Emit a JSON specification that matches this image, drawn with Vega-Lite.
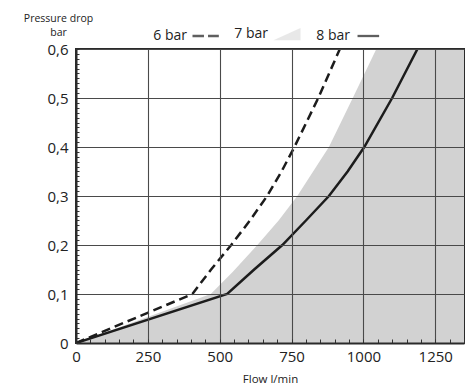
{
  "$schema": "https://vega.github.io/schema/vega-lite/v6.json",
  "width": 388,
  "height": 294,
  "autosize": {"type": "none"},
  "padding": {"left": 76, "top": 49, "right": 8, "bottom": 42},
  "background": "white",
  "config": {
    "font": "Open Sans",
    "view": {"stroke": "#2a2a2a", "strokeWidth": 2},
    "axis": {"labelFont": "Open Sans", "titleFont": "Open Sans", "labelColor": "#222", "titleColor": "#222"}
  },
  "data": {
    "values": [
      {"series": "6 bar", "flow": 0, "dp": 0},
      {"series": "6 bar", "flow": 405, "dp": 0.1},
      {"series": "6 bar", "flow": 470, "dp": 0.15},
      {"series": "6 bar", "flow": 540, "dp": 0.2},
      {"series": "6 bar", "flow": 605, "dp": 0.25},
      {"series": "6 bar", "flow": 665, "dp": 0.3},
      {"series": "6 bar", "flow": 715, "dp": 0.35},
      {"series": "6 bar", "flow": 760, "dp": 0.4},
      {"series": "6 bar", "flow": 843, "dp": 0.5},
      {"series": "6 bar", "flow": 918, "dp": 0.6},
      {"series": "7 bar", "flow": 0, "dp": 0},
      {"series": "7 bar", "flow": 469, "dp": 0.1},
      {"series": "7 bar", "flow": 545, "dp": 0.145},
      {"series": "7 bar", "flow": 631, "dp": 0.2},
      {"series": "7 bar", "flow": 705, "dp": 0.25},
      {"series": "7 bar", "flow": 770, "dp": 0.3},
      {"series": "7 bar", "flow": 880, "dp": 0.4},
      {"series": "7 bar", "flow": 963, "dp": 0.5},
      {"series": "7 bar", "flow": 1045, "dp": 0.6},
      {"series": "7 bar", "flow": 1350, "dp": 0.6},
      {"series": "8 bar", "flow": 0, "dp": 0},
      {"series": "8 bar", "flow": 526, "dp": 0.1},
      {"series": "8 bar", "flow": 620, "dp": 0.15},
      {"series": "8 bar", "flow": 718, "dp": 0.2},
      {"series": "8 bar", "flow": 800, "dp": 0.25},
      {"series": "8 bar", "flow": 880, "dp": 0.3},
      {"series": "8 bar", "flow": 945, "dp": 0.35},
      {"series": "8 bar", "flow": 1003, "dp": 0.4},
      {"series": "8 bar", "flow": 1100, "dp": 0.5},
      {"series": "8 bar", "flow": 1188, "dp": 0.6}
    ]
  },
  "encoding": {
    "x": {
      "field": "flow", "type": "quantitative",
      "scale": {"domain": [0, 1350], "nice": false, "zero": true},
      "axis": {
        "title": "Flow l/min",
        "titleFontSize": 11.5, "titleFontWeight": "normal",
        "titleBaseline": "alphabetic", "titleY": 39,
        "values": [0,50,100,150,200,250,300,350,400,450,500,550,600,650,700,750,800,850,900,950,1000,1050,1100,1150,1200,1250,1300,1350],
        "labelExpr": "datum.value % 250 == 0 ? format(datum.value, 'd') : ''",
        "labelFontSize": 15, "labelFlush": false, "labelOverlap": false, "labelPadding": 10,
        "tickSize": -4, "tickColor": "#333", "tickWidth": 1,
        "grid": true, "gridColor": "#4a4a4a", "gridWidth": 1.1,
        "gridOpacity": {"condition": {"test": "datum.value % 250 == 0", "value": 1}, "value": 0},
        "domain": true, "domainColor": "#2a2a2a", "domainWidth": 2,
        "zindex": 1
      }
    },
    "y": {
      "field": "dp", "type": "quantitative",
      "scale": {"domain": [0, 0.6], "nice": false},
      "axis": {
        "title": ["Pressure drop", "bar"],
        "titleFontSize": 10.5, "titleFontWeight": "normal",
        "titleAngle": 0, "titleAlign": "center", "titleBaseline": "alphabetic",
        "titleX": -18, "titleY": -28, "titleLineHeight": 14,
        "values": [0,0.01,0.02,0.03,0.04,0.05,0.06,0.07,0.08,0.09,0.1,0.11,0.12,0.13,0.14,0.15,0.16,0.17,0.18,0.19,0.2,0.21,0.22,0.23,0.24,0.25,0.26,0.27,0.28,0.29,0.3,0.31,0.32,0.33,0.34,0.35,0.36,0.37,0.38,0.39,0.4,0.41,0.42,0.43,0.44,0.45,0.46,0.47,0.48,0.49,0.5,0.51,0.52,0.53,0.54,0.55,0.56,0.57,0.58,0.59,0.6],
        "labelExpr": "abs(datum.value*10 - round(datum.value*10)) < 0.000001 ? (datum.value == 0 ? '0' : replace(format(datum.value, '.1f'), '.', ',')) : ''",
        "labelFontSize": 15, "labelFlush": false, "labelOverlap": false, "labelPadding": 11,
        "tickSize": -3, "tickColor": "#333", "tickWidth": 1,
        "grid": true, "gridColor": "#4a4a4a", "gridWidth": 1.1,
        "gridOpacity": {"condition": {"test": "abs(datum.value*10 - round(datum.value*10)) < 0.000001", "value": 1}, "value": 0},
        "domain": true, "domainColor": "#2a2a2a", "domainWidth": 2,
        "zindex": 1
      }
    }
  },
  "layer": [
    {
      "transform": [{"filter": "datum.series == '7 bar'"}],
      "mark": {"type": "area", "color": "#d2d2d2", "clip": true}
    },
    {
      "transform": [{"filter": "datum.series == '6 bar'"}],
      "mark": {"type": "line", "color": "#1c1c1c", "strokeWidth": 2.5, "strokeDash": [9, 5], "clip": true}
    },
    {
      "transform": [{"filter": "datum.series == '8 bar'"}],
      "mark": {"type": "line", "color": "#1c1c1c", "strokeWidth": 2.5, "clip": true}
    },
    {
      "transform": [{"filter": "datum.flow < 0"}],
      "mark": {"type": "point", "filled": true},
      "encoding": {
        "shape": {
          "field": "series", "type": "nominal",
          "scale": {"domain": ["6 bar", "7 bar", "8 bar"], "range": ["M-1,0H-0.15M0.15,0H0.95", "M-1,0.45L1,0.45L1,-0.45Z", "M-0.85,0H0.75"]},
          "legend": {
            "title": null, "orient": "none", "direction": "horizontal",
            "legendX": 115, "legendY": -30,
            "symbolSize": 729, "symbolStrokeWidth": 2.3,
            "labelFont": "Open Sans", "labelFontSize": 14, "labelColor": "#222",
            "labelAlign": "right", "labelOffset": -34, "columnPadding": 10, "padding": 0
          }
        },
        "fill": {
          "field": "series", "type": "nominal",
          "scale": {"domain": ["6 bar", "7 bar", "8 bar"], "range": ["transparent", "#d2d2d2", "transparent"]},
          "legend": {"title": null}
        },
        "stroke": {
          "field": "series", "type": "nominal",
          "scale": {"domain": ["6 bar", "7 bar", "8 bar"], "range": ["#1c1c1c", "transparent", "#1c1c1c"]},
          "legend": {"title": null}
        }
      }
    }
  ]
}
